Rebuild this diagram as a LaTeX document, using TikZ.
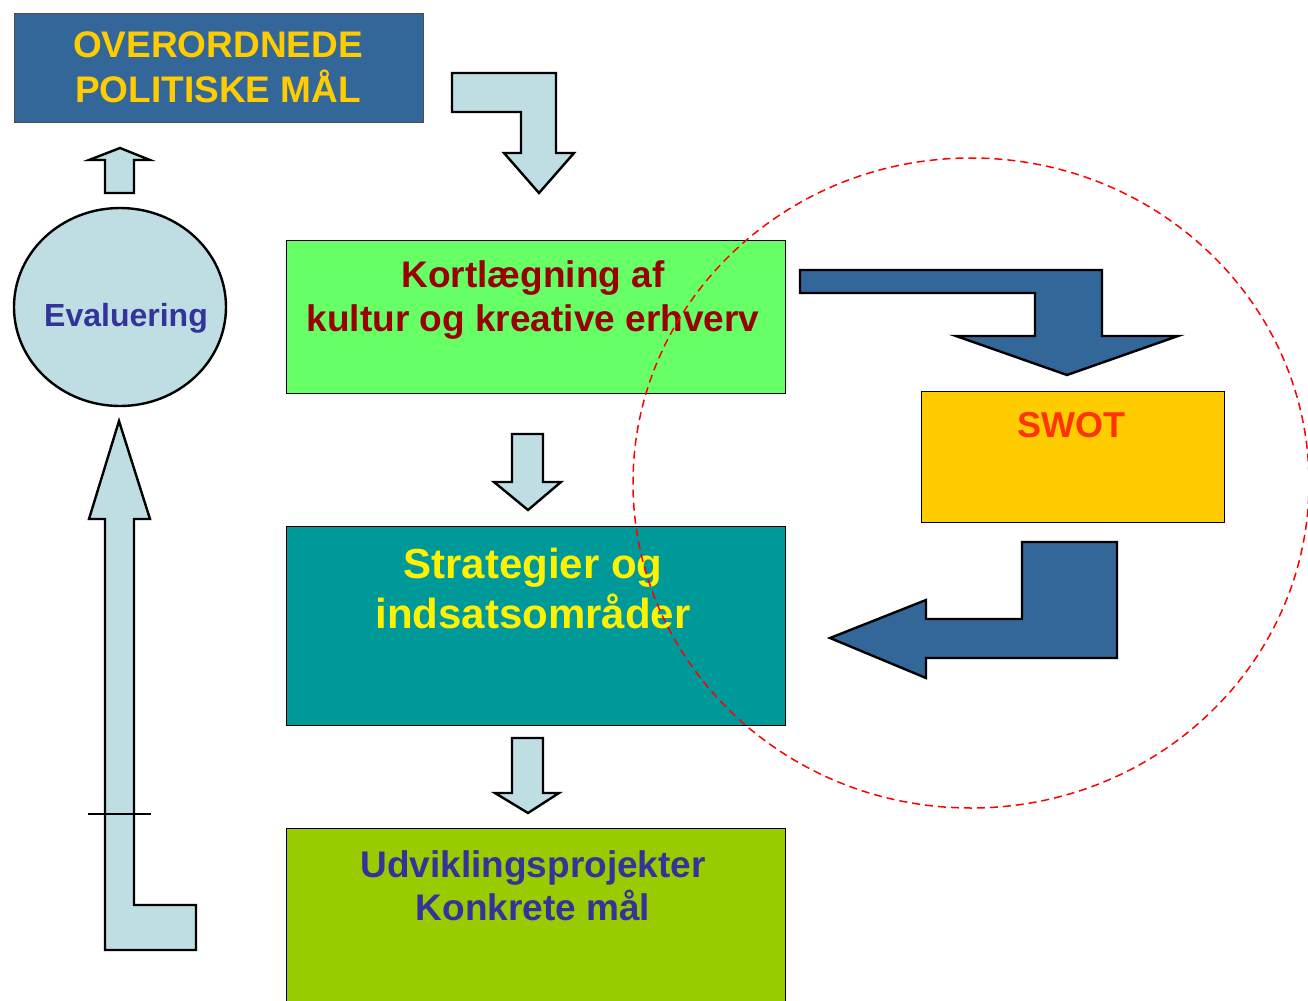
\documentclass[tikz,border=0pt]{standalone}
\usepackage{fontspec}
\setmainfont{Liberation Sans}
\usetikzlibrary{shapes.geometric}
\definecolor{navy}{RGB}{51,102,153}
\definecolor{pale}{RGB}{190,222,228}
\definecolor{gold}{RGB}{255,204,0}
\definecolor{lgreen}{RGB}{102,255,102}
\definecolor{dred}{RGB}{153,0,0}
\definecolor{teal2}{RGB}{0,153,153}
\definecolor{lime}{RGB}{153,204,0}
\definecolor{indigo}{RGB}{51,51,153}
\definecolor{orred}{RGB}{255,51,0}
\begin{document}
\begin{tikzpicture}[x=0.5pt,y=-0.5pt,
  box/.style={draw=black,line width=0.5pt,inner sep=0pt,anchor=north west},
  blockarrow/.style={draw=black,line width=1.2pt,line join=miter},
  txt/.style={anchor=base,inner sep=0pt,font=\bfseries\fontsize{18.5}{22}\selectfont}]
\useasboundingbox (0,0) rectangle (1308,1001);
% boxes
\node[box,fill=navy,draw=black!70,minimum width=204.5pt,minimum height=54.5pt] (top) at (14,13) {};
\node[box,fill=lgreen,minimum width=249.5pt,minimum height=76.5pt] (kort) at (286,240) {};
\node[box,fill=gold,minimum width=151.5pt,minimum height=65.5pt] (swot) at (921,391) {};
\node[box,fill=teal2,minimum width=249.5pt,minimum height=99.5pt] (strat) at (286,526) {};
\node[box,fill=lime,minimum width=249.5pt,minimum height=90pt] (udv) at (286,828) {};
% evaluation ellipse
\node[draw=black,line width=1.2pt,fill=pale,ellipse,minimum width=106pt,minimum height=99pt,inner sep=0pt] (eval) at (120,307) {};
% block arrows
\draw[blockarrow,fill=pale] (105,193) -- (105,160) -- (89,160) -- (120,148) -- (150,160) -- (134,160) -- (134,193) -- cycle;
\draw[blockarrow,fill=pale] (452,73) -- (556,73) -- (556,153) -- (574,153) -- (539,193) -- (504,153) -- (521,153) -- (521,112) -- (452,112) -- cycle;
\draw[blockarrow,fill=pale] (512,434) -- (543,434) -- (543,482) -- (561,482) -- (528,510) -- (494,482) -- (512,482) -- cycle;
\draw[blockarrow,fill=pale] (512,738) -- (543,738) -- (543,793) -- (559,793) -- (528,813) -- (495,793) -- (512,793) -- cycle;
\draw[blockarrow,fill=pale] (105,950) -- (105,519) -- (89,519) -- (119,421) -- (150,519) -- (134,519) -- (134,905) -- (196,905) -- (196,950) -- cycle;
\draw[line width=1.2pt] (88,814) -- (151,814);
\draw[blockarrow,fill=navy] (800,270) -- (1102,270) -- (1102,336) -- (1178,336) -- (1067,375) -- (956,336) -- (1035,336) -- (1035,293) -- (800,293) -- cycle;
\draw[blockarrow,fill=navy] (1117,542) -- (1117,658) -- (926,658) -- (926,678) -- (830,638) -- (926,600) -- (926,619) -- (1022,619) -- (1022,542) -- cycle;
% texts
\node[txt,text=gold] (t1) at (218,57) {OVERORDNEDE};
\node[txt,text=gold] (t2) at (218,102) {POLITISKE MÅL};
\node[txt,text=indigo,font=\bfseries\fontsize{16}{19}\selectfont] (t3) at (126,326) {Evaluering};
\node[txt,text=dred] (t4) at (533,287) {Kortlægning af};
\node[txt,text=dred] (t5) at (533,331) {kultur og kreative erhverv};
\node[txt,text=orred,font=\bfseries\fontsize{18}{22}\selectfont] (t6) at (1071,437) {SWOT};
\node[txt,text=yellow,font=\bfseries\fontsize{21}{25}\selectfont] (t7) at (533,578) {Strategier og};
\node[txt,text=yellow,font=\bfseries\fontsize{21}{25}\selectfont] (t8) at (533,628) {indsatsområder};
\node[txt,text=indigo] (t9) at (533,877) {Udviklingsprojekter};
\node[txt,text=indigo] (t10) at (533,920) {Konkrete mål};
% dashed ellipse
\draw[red,line width=0.75pt,dash pattern=on 4pt off 2.5pt] (971,483) ellipse [x radius=338,y radius=325];
\end{tikzpicture}
\end{document}
